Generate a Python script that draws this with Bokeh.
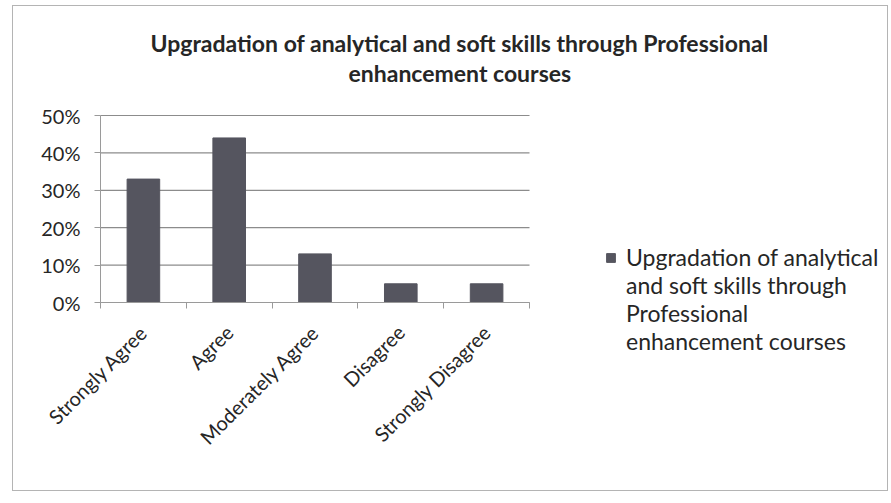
import math
from bokeh.plotting import figure
from bokeh.models import (ColumnDataSource, FixedTicker, NumeralTickFormatter,
                          Legend, LegendItem, Range1d, Title)
from bokeh.embed import file_html
from bokeh.resources import INLINE

# ---- data ----
categories = ["Strongly Agree", "Agree", "Moderately Agree", "Disagree", "Strongly Disagree"]
values = [0.33, 0.44, 0.13, 0.05, 0.05]
y_ticks = [0.0, 0.1, 0.2, 0.3, 0.4, 0.5]
series_lines = ["Upgradation of analytical", "and soft skills through",
                "Professional", "enhancement courses"]
title_line1 = "Upgradation of analytical  and soft skills through Professional"
title_line2 = "enhancement courses"

FONT = "Lato"
TXT = "#262626"
AXIS = "#9a9a9a"
GRID = "#8c8c8c"
BAR = "#55555f"

# ---- layout (pixels, page coordinates) ----
W, H = 876, 486                 # canvas size
ORIGIN_X, ORIGIN_Y = 13, 6      # canvas position on the page (margin + border)
FRAME_L, FRAME_R, FRAME_T, FRAME_B = 20, 884, 86, 485
AX_X0, AX_Y0 = 100, 302         # where the value 0 / first category edge sit
BAR_AREA_W, BAR_AREA_H = 429, 187

n = len(categories)
y_top = max(y_ticks)
px_per_x = BAR_AREA_W / n
px_per_y = BAR_AREA_H / y_top
x_range = Range1d((FRAME_L - AX_X0) / px_per_x, (FRAME_R - AX_X0) / px_per_x)
y_range = Range1d(-(FRAME_B - AX_Y0) / px_per_y, (AX_Y0 - FRAME_T) / px_per_y)

positions = [i + 0.5 for i in range(n)]
boundaries = list(range(n + 1))
src = ColumnDataSource(dict(x=positions, top=values, cat=categories))
grid_src = ColumnDataSource(dict(x0=[0] * len(y_ticks), x1=[n] * len(y_ticks),
                                 y=y_ticks))

p = figure(width=W, height=H, output_backend="svg", toolbar_location=None,
           x_range=x_range, y_range=y_range,
           min_border_left=FRAME_L - ORIGIN_X,
           min_border_right=ORIGIN_X + W - FRAME_R,
           min_border_top=FRAME_T - ORIGIN_Y,
           min_border_bottom=ORIGIN_Y + H - FRAME_B)
p.styles = {"border": "1px solid #b4b4b4", "margin-left": "12px", "margin-top": "5px"}
p.outline_line_color = None
p.xgrid.visible = False
p.ygrid.visible = False

# two-line title, each line centred over the whole chart
p.title.text = title_line1
p.title.align = "left"
p.title.offset = 130
p.title.text_font = FONT
p.title.text_font_size = "23px"
p.title.text_font_style = "bold"
p.title.text_color = TXT
p.title.standoff = 0
t2 = Title(text=title_line2, align="left", offset=328, text_font=FONT,
           text_font_size="23px", text_font_style="bold", text_color=TXT, standoff=0)
p.add_layout(t2, "above")

# horizontal gridlines limited to the category area
p.segment(x0="x0", x1="x1", y0="y", y1="y", source=grid_src,
          line_color=GRID, line_width=1.2)

r = p.vbar(x="x", top="top", width=0.38, source=src, fill_color=BAR, line_color=BAR)
# invisible companion renderer used only for the wrapped legend lines
blank = p.vbar(x=[], top=[], width=0.38, fill_alpha=0, line_alpha=0)

# x axis at y = 0: ticks between categories, labels at category centres
p.xaxis.fixed_location = 0
p.xaxis.bounds = (0, n)
p.xaxis.ticker = FixedTicker(ticks=positions, minor_ticks=boundaries)
p.xaxis.major_label_overrides = {pos: cat for pos, cat in zip(positions, categories)}
p.xaxis.major_tick_line_color = None
p.xaxis.minor_tick_in = 0
p.xaxis.minor_tick_out = 6
p.xaxis.minor_tick_line_color = AXIS
p.xaxis.axis_line_color = AXIS
p.xaxis.major_label_orientation = math.pi / 4
p.xaxis.major_label_standoff = 20
p.xaxis.major_label_text_font = FONT
p.xaxis.major_label_text_font_size = "20px"
p.xaxis.major_label_text_color = TXT

# y axis at x = 0
p.yaxis.fixed_location = 0
p.yaxis.bounds = (0, y_top)
p.yaxis.ticker = FixedTicker(ticks=y_ticks, minor_ticks=[])
p.yaxis.formatter = NumeralTickFormatter(format="0%")
p.yaxis.major_tick_in = 0
p.yaxis.major_tick_out = 6
p.yaxis.major_tick_line_color = AXIS
p.yaxis.axis_line_color = AXIS
p.yaxis.major_label_text_font = FONT
p.yaxis.major_label_text_font_size = "20px"
p.yaxis.major_label_text_color = TXT
p.yaxis.major_label_standoff = 14

items = [LegendItem(label=series_lines[0], renderers=[r])] + \
        [LegendItem(label=line, renderers=[blank]) for line in series_lines[1:]]
legend = Legend(items=items, location=(605 - FRAME_L, FRAME_B - 355), padding=0,
                margin=0, spacing=0, border_line_color=None, background_fill_alpha=0,
                glyph_width=11, glyph_height=11, label_height=28,
                label_standoff=10, label_text_font=FONT,
                label_text_font_size="23px", label_text_color=TXT)
p.add_layout(legend, "center")

open("out.html", "w").write(file_html(p, INLINE))
